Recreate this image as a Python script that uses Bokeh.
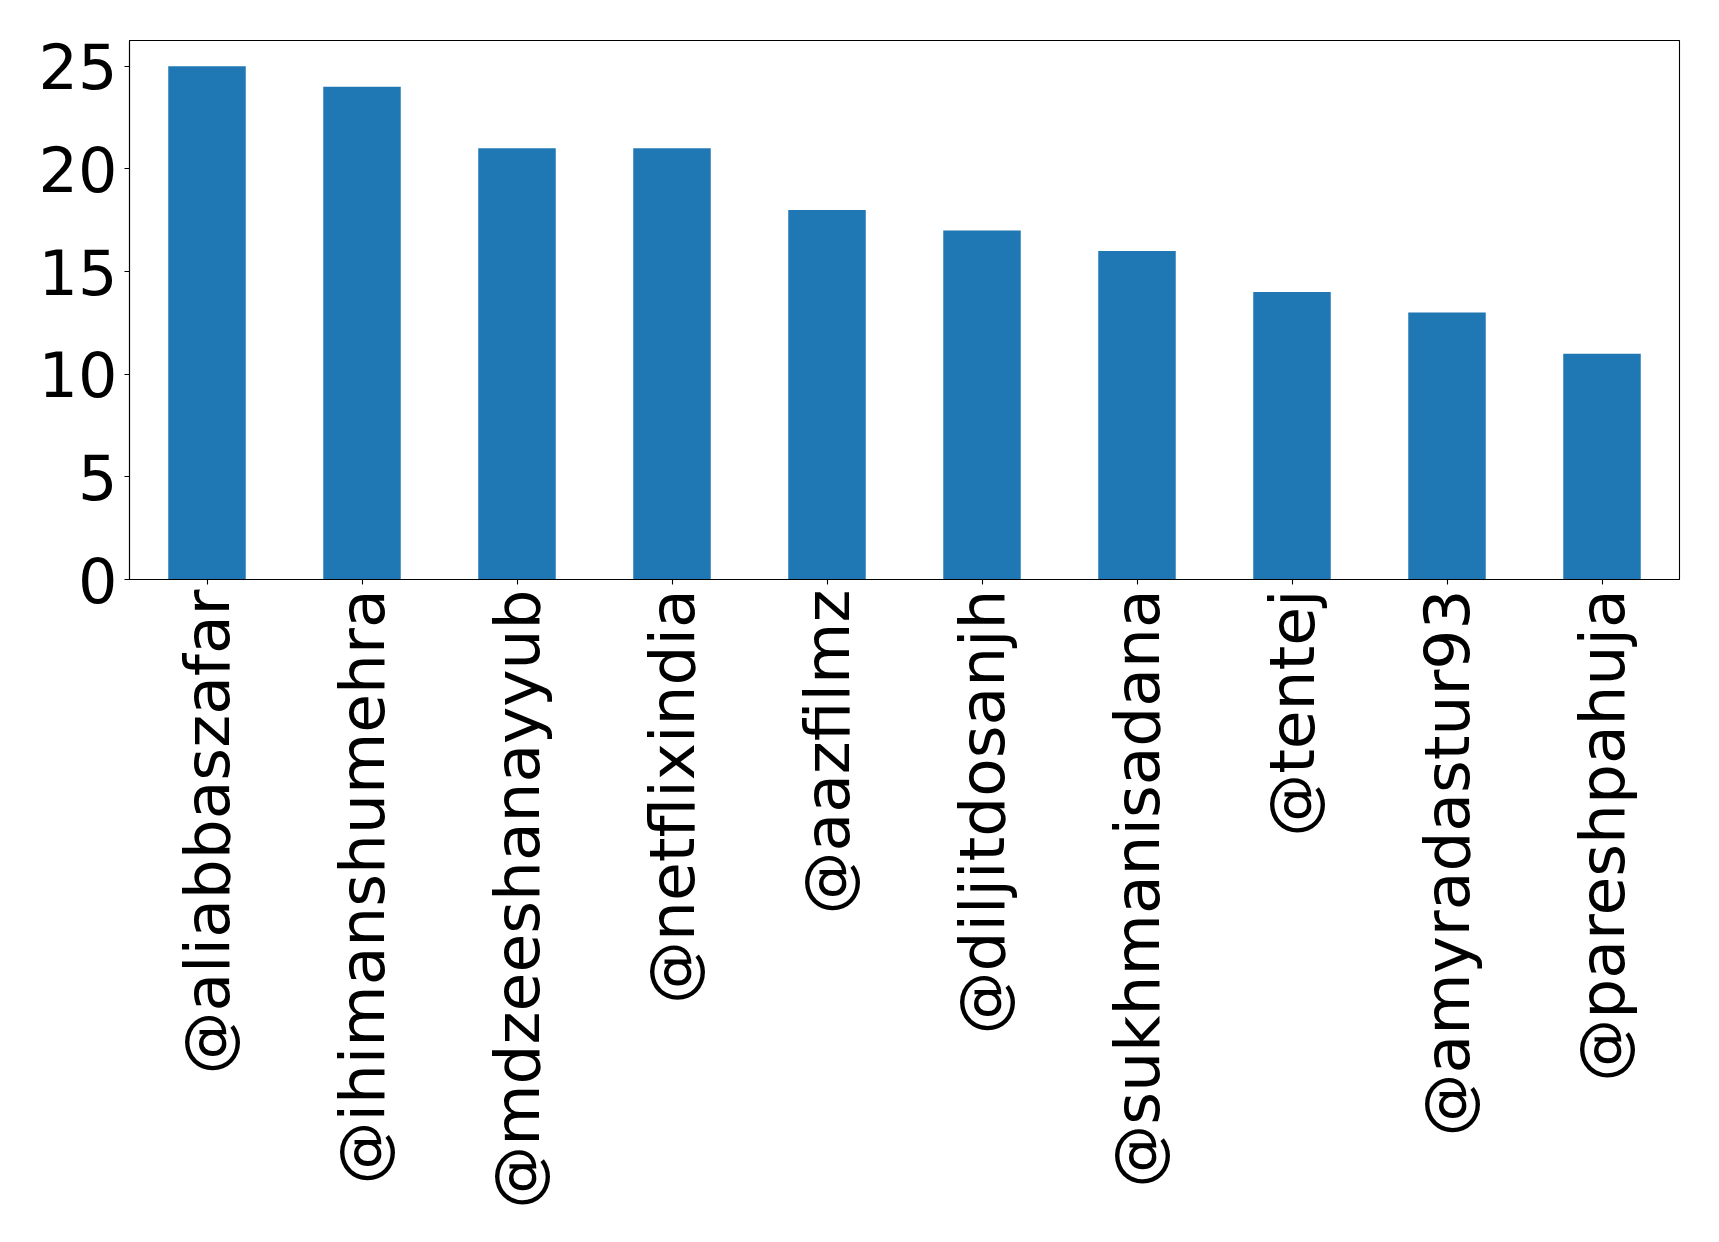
import math
from bokeh.plotting import figure
from bokeh.models import FixedTicker, Range1d, FactorRange
from bokeh.embed import file_html
from bokeh.resources import INLINE

names = ["@aliabbaszafar", "@ihimanshumehra", "@mdzeeshanayyub", "@netflixindia",
         "@aazfilmz", "@diljitdosanjh", "@sukhmanisadana", "@tentej",
         "@amyradastur93", "@pareshpahuja"]
counts = [25, 24, 21, 21, 18, 17, 16, 14, 13, 11]
y_ticks = [0, 5, 10, 15, 20, 25]

p = figure(x_range=FactorRange(*names), y_range=Range1d(0, 26.25),
           frame_width=1550, frame_height=539,
           min_border_left=129, min_border_top=40, min_border_right=32, min_border_bottom=655,
           output_backend="svg", toolbar_location=None)

p.vbar(x=names, top=counts, width=0.5, fill_color="#1f77b4", line_color=None)

p.xgrid.visible = False
p.ygrid.visible = False
p.outline_line_color = "black"
p.outline_line_width = 1.1
p.outline_line_alpha = 1

for ax in (p.xaxis[0], p.yaxis[0]):
    ax.axis_line_color = "black"
    ax.axis_line_width = 1.1
    ax.major_tick_line_color = "black"
    ax.major_tick_line_width = 1.1
    ax.major_tick_out = 5
    ax.major_tick_in = 0
    ax.minor_tick_line_color = None
    ax.major_label_text_font = "DejaVu Sans"
    ax.major_label_text_color = "black"

p.yaxis[0].major_label_text_font_size = "62px"
p.xaxis[0].major_label_text_font_size = "63px"
p.yaxis[0].ticker = FixedTicker(ticks=y_ticks)
p.yaxis[0].major_label_standoff = 7
p.xaxis[0].major_label_orientation = math.pi / 2
p.xaxis[0].major_label_standoff = 5

open("out.html", "w").write(file_html(p, INLINE))
